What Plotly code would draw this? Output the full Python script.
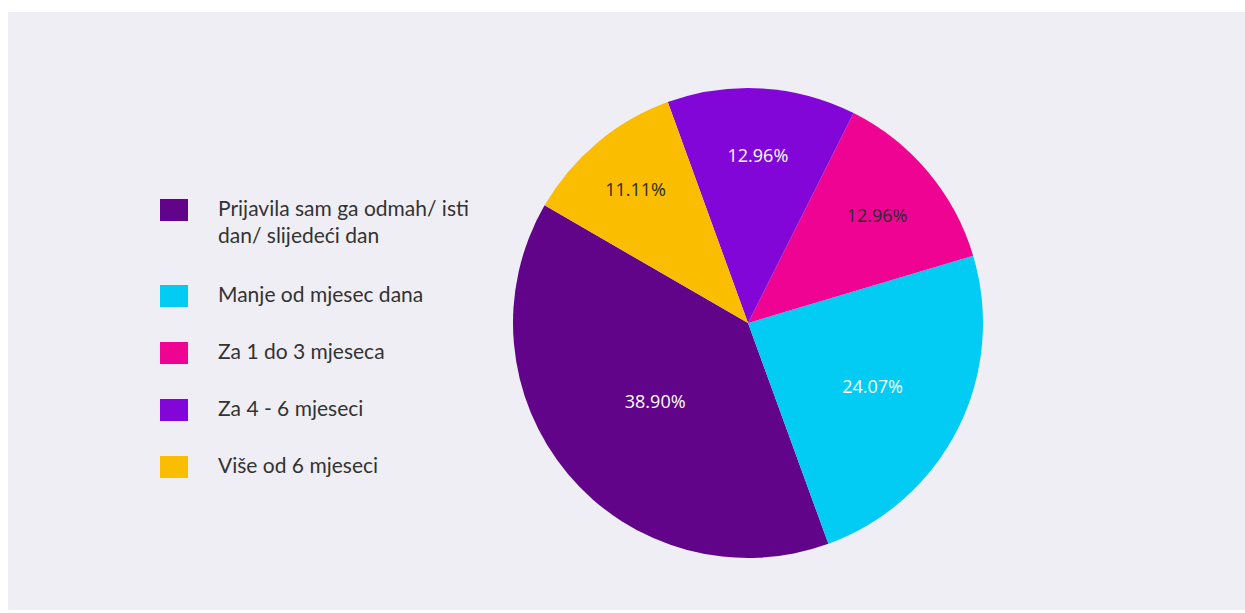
import plotly.graph_objects as go

# Response categories and their shares (%)
labels = [
    "Prijavila sam ga odmah/ isti dan/ slijedeći dan",
    "Manje od mjesec dana",
    "Za 1 do 3 mjeseca",
    "Za 4 - 6 mjeseci",
    "Više od 6 mjeseci",
]
legend_lines = [
    "Prijavila sam ga odmah/ isti<br>dan/ slijedeći dan",
    "Manje od mjesec dana",
    "Za 1 do 3 mjeseca",
    "Za 4 - 6 mjeseci",
    "Više od 6 mjeseci",
]
values = [38.90, 24.07, 12.96, 12.96, 11.11]
colors = ["#61048a", "#02cbf4", "#ef0392", "#8206d8", "#fbbd00"]
text_colors = ["#ffffff", "#ffffff", "#2b2b2b", "#ffffff", "#2b2b2b"]

W, H = 1245, 613
BG = "#efeef5"
FONT = "Lato, 'Open Sans', sans-serif"

fig = go.Figure(
    go.Pie(
        labels=labels,
        values=values,
        sort=False,
        direction="counterclockwise",
        rotation=160,
        marker=dict(colors=colors, line=dict(width=0)),
        texttemplate="%{value:.2f}%",
        textposition="inside",
        insidetextorientation="horizontal",
        insidetextfont=dict(family="'Open Sans', sans-serif", size=18, color=text_colors),
        hoverinfo="label+percent",
        showlegend=False,
        domain=dict(x=[513 / W, 983 / W], y=[55 / H, 525 / H]),
    )
)

shapes = [
    dict(type="rect", xref="paper", yref="paper", x0=8 / W, x1=1.0, y0=3 / H, y1=1 - 12 / H,
         fillcolor=BG, line=dict(width=0), layer="below")
]
annotations = []

# Hand-built legend: larger colour swatches than the built-in one
row_y = 210  # centre of first swatch, px from top
for name, col in zip(legend_lines, colors):
    nlines = name.count("<br>") + 1
    yc = 1 - row_y / H
    shapes.append(dict(type="rect", xref="paper", yref="paper",
                       x0=160 / W, x1=188 / W, y0=yc - 11 / H, y1=yc + 11 / H,
                       fillcolor=col, line=dict(width=0)))
    annotations.append(dict(xref="paper", yref="paper", x=216 / W, y=1 - (row_y - 17) / H,
                            xanchor="left", yanchor="top", align="left", showarrow=False,
                            text=name, font=dict(family=FONT, size=21, color="#333333")))
    row_y += 57 + 29 * (nlines - 1)

fig.update_layout(
    width=W, height=H,
    margin=dict(l=0, r=0, t=0, b=0),
    paper_bgcolor="#ffffff",
    shapes=shapes,
    annotations=annotations,
    font=dict(family=FONT),
)

fig.write_html("out.html")
